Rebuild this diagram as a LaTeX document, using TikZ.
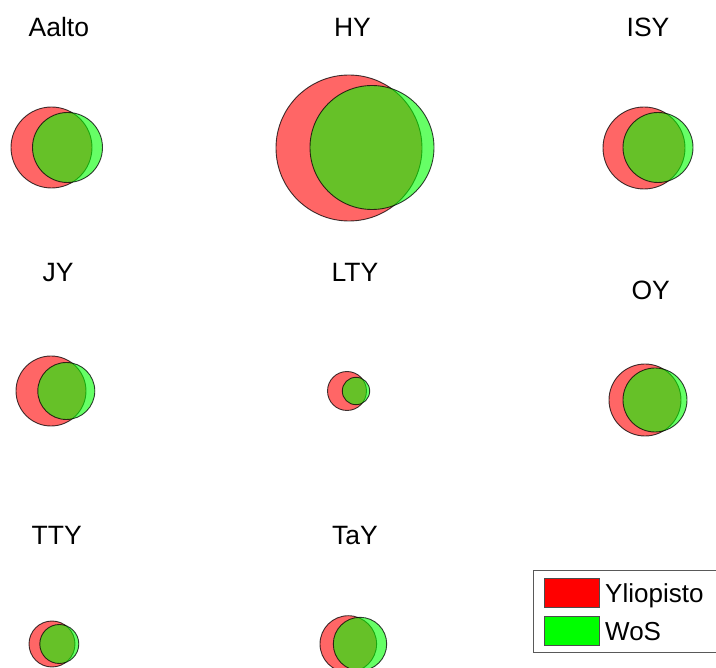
\documentclass[tikz,border=0pt]{standalone}
\usepackage{fontspec}
\setmainfont{Liberation Sans}
\usepackage{xcolor}
\usetikzlibrary{positioning}

\tikzset{
    titel/.style={anchor=base, inner sep=0pt, font=\fontsize{26.5}{30}\selectfont},
    kreis/.style={circle, inner sep=0pt, draw=black, draw opacity=0.75, fill opacity=0.6, line width=0.9pt},
    yliopisto/.style={kreis, fill=red},
    wos/.style={kreis, fill=green},
    feld/.style={rectangle, inner sep=0pt, draw=black!70, minimum width=54.7pt, minimum height=29pt},
    eintrag/.style={anchor=base west, inner sep=0pt, font=\fontsize{26}{30}\selectfont}
}

\begin{document}
\begin{tikzpicture}[x=1pt, y=-1pt]
        % Rahmen
        \useasboundingbox (0, 0) rectangle (716, 668);
        \clip (0, 0) rectangle (716, 668);
        \fill[white] (0, 0) rectangle (716, 668);
        % Kreise
        \foreach \n/\tx/\ty/\rx/\ry/\rr/\gx/\gy/\gr in {
            Aalto/58.8/37/51.5/147.5/40.5/67.5/147.5/35,
            HY/352.5/37/349/148/73/372/147.5/62,
            ISY/648/37/644/148/41/658/147.5/35,
            JY/58/282/51/391/35/66.3/391/28.5,
            LTY/355/282/347/391/19.5/356/391/13.7,
            OY/650.7/300/645/400/36/655/400/32,
            TTY/56.7/545/52/644/23/59.3/644/19.5,
            TaY/355/545/348.3/644/28.3/360/644/26.7}
        {
            \node[titel] (t\n) at (\tx, \ty) {\n};
            \node[yliopisto, minimum size={2*\rr*1pt}] (y\n) at (\rx, \ry) {};
            \node[wos, minimum size={2*\gr*1pt}] (w\n) at (\gx, \gy) {};
        }
        % Legende
        \node[rectangle, draw=black!65, line width=0.9pt, anchor=north west, minimum width=260pt, minimum height=82.3pt] (legende) at (532.7, 570) {};
        \node[feld, fill=red] (fYliopisto) at (571.6, 592.8) {};
        \node[feld, fill=green] (fWoS) at (571.6, 630.5) {};
        \node[eintrag] (eYliopisto) at (605, 603) {Yliopisto};
        \node[eintrag] (eWoS) at (605, 640.5) {WoS};
\end{tikzpicture}
\end{document}
